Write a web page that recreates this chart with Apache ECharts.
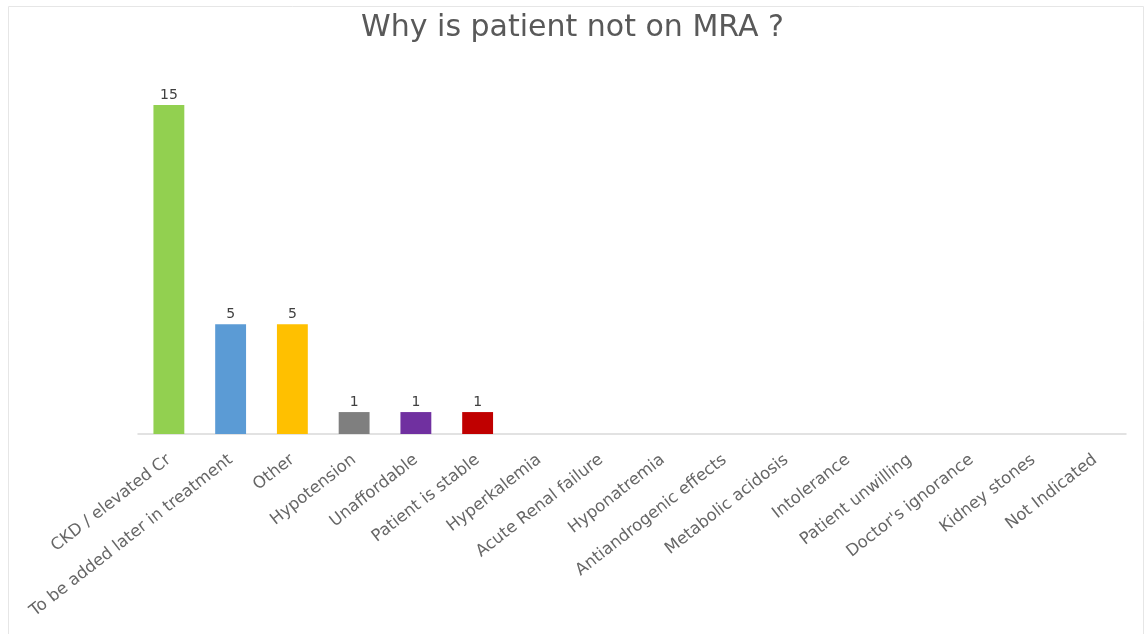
<!DOCTYPE html>
<html>
<head>
<meta charset="utf-8">
<script src="https://cdn.jsdelivr.net/npm/echarts@6/dist/echarts.min.js"></script>
<style>
  html, body { margin: 0; padding: 0; background: #fff; }
  #chart { width: 1145px; height: 634px; }
</style>
</head>
<body>
<div id="chart"></div>
<script>
// Reasons recorded for patients not receiving an MRA
const categories = [
  'CKD / elevated Cr', 'To be added later in treatment', 'Other', 'Hypotension',
  'Unaffordable', 'Patient is stable', 'Hyperkalemia', 'Acute Renal failure',
  'Hyponatremia', 'Antiandrogenic effects', 'Metabolic acidosis', 'Intolerance',
  'Patient unwilling', "Doctor's ignorance", 'Kidney stones', 'Not Indicated'
];
const counts = [15, 5, 5, 1, 1, 1, 0, 0, 0, 0, 0, 0, 0, 0, 0, 0];
const barColors = [
  '#92D050', '#5B9BD5', '#FFC000', '#7F7F7F', '#7030A0', '#C00000',
  '#ED7D31', '#4472C4', '#70AD47', '#264478', '#9E480E', '#636363',
  '#997300', '#255E91', '#43682B', '#698ED0'
];

const chart = echarts.init(document.getElementById('chart'));
chart.setOption({
  backgroundColor: '#ffffff',
  animation: false,
  title: {
    text: 'Why is patient not on MRA ?',
    left: 'center',
    top: 8,
    textStyle: { fontFamily: 'DejaVu Sans', fontSize: 30, fontWeight: 'normal', color: '#595959' }
  },
  graphic: [{
    type: 'rect',
    shape: { x: 8.5, y: 6.5, width: 1135, height: 640 },
    style: { fill: 'none', stroke: '#e6e6e6', lineWidth: 1 },
    silent: true
  }],
  grid: { left: 138, right: 19, top: 105, bottom: 200, containLabel: false },
  xAxis: {
    type: 'category',
    data: categories,
    axisLine: { show: true, lineStyle: { color: '#d9d9d9', width: 1.5 } },
    axisTick: { show: false },
    axisLabel: {
      interval: 0,
      rotate: 38,
      margin: 24,
      fontFamily: 'DejaVu Sans',
      fontSize: 16.5,
      color: '#666666'
    }
  },
  yAxis: {
    type: 'value',
    min: 0,
    max: 15,
    show: false,
    splitLine: { show: false }
  },
  series: [{
    type: 'bar',
    barWidth: '50%',
    data: counts.map((v, i) => ({ value: v, itemStyle: { color: barColors[i] } })),
    label: {
      show: true,
      position: 'top',
      distance: 3,
      fontFamily: 'DejaVu Sans',
      fontSize: 14,
      color: '#404040',
      formatter: p => (p.value > 0 ? String(p.value) : '')
    }
  }]
});
</script>
</body>
</html>
